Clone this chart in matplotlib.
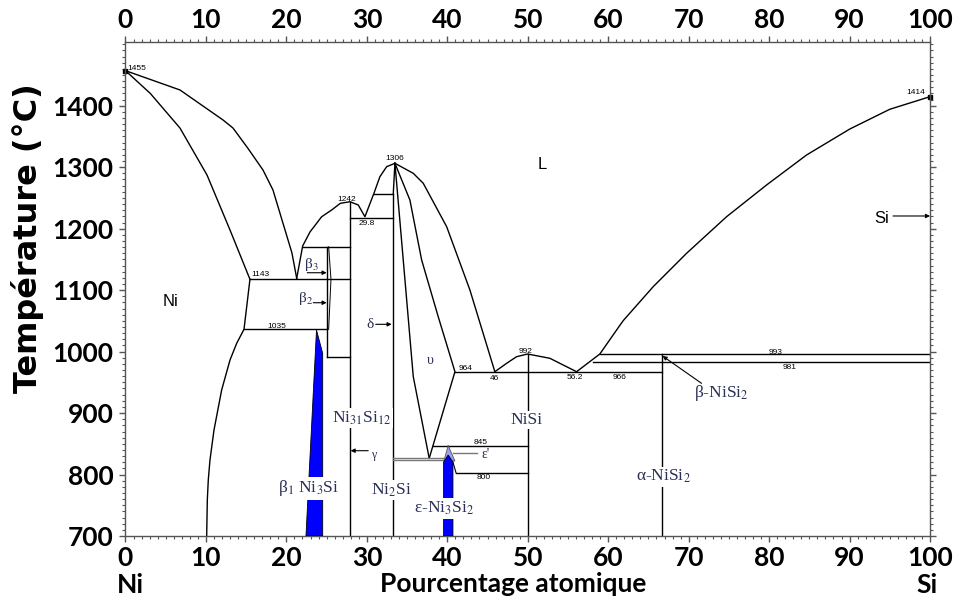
import matplotlib
matplotlib.use('Agg')
import matplotlib.pyplot as plt
from matplotlib.ticker import MultipleLocator, FixedLocator

plt.rcParams['font.family'] = ['Lato', 'DejaVu Sans']
plt.rcParams['mathtext.fontset'] = 'stix'

# ---- phase boundaries (at.% Si, temperature in C) ----
ni_liq_x = [0, 6.77, 12.12, 13.36, 15.2, 17.09, 18.33, 20.69, 21.28]
ni_liq_t = [1457, 1425.6, 1376.8, 1363.7, 1331, 1295.4, 1262.9, 1160.4, 1119.2]

ni_sol_x = [0, 3.08, 6.77, 10.13, 12.99, 15.47]
ni_sol_t = [1457, 1420, 1363.7, 1287.3, 1197.8, 1117.6]

ni_solvus_x = [15.47, 14.73, 13.82, 12.99, 11.95, 11.0, 10.5, 10.29, 10.17, 10.09]
ni_solvus_t = [1117.6, 1036.3, 1013.5, 986.3, 937.5, 872.4, 823.6, 791.1, 758.6, 700]

mid_liq_x = [21.28, 22.02, 22.93, 24.38, 25.62, 26.70, 27.90, 28.93, 29.76, 30.88, 31.62, 32.46, 33.49]
mid_liq_t = [1119.2, 1171.8, 1194.6, 1219.4, 1230.3, 1241.2, 1243.8, 1238.5, 1219.4, 1257.5, 1284.5, 1300.8, 1306.3]

delta_x = [33.49, 35.77, 37.75]
delta_t = [1306.3, 959.2, 826.4]

theta_x = [33.49, 35.35, 36.81, 38.87, 40.95, 37.75]
theta_t = [1306.3, 1246.6, 1149.0, 1056.8, 967.3, 826.4]

liq2_x = [33.49, 35.77, 37.01, 39.92, 42.81, 45.91]
liq2_t = [1306.3, 1290.0, 1273.8, 1203.2, 1100.2, 967.3]

nisi_liq_x = [45.91, 47.37, 48.61, 49.98, 52.75, 54.83, 56.07]
nisi_liq_t = [967.3, 980.9, 991.7, 996.1, 989.1, 975.4, 967.3]

si_liq_x = [56.07, 58.96, 61.04, 61.86, 65.59, 69.74, 74.71, 79.68, 84.65, 90.03, 95.0, 100]
si_liq_t = [967.3, 996.1, 1035.1, 1050.3, 1105.6, 1159.9, 1219.4, 1271.0, 1319.8, 1362.1, 1394.2, 1414.7]

beta_x = [25.25, 25.54, 25.25]
beta_t = [1170.6, 1117.6, 1036.3]

# horizontal invariant lines: start, end, temperature
h_x0 = [15.47, 14.73, 22.02, 25.08, 27.90, 30.88, 40.95, 58.96, 58.13, 38.22, 41.08]
h_x1 = [27.90, 25.08, 27.90, 27.90, 33.28, 33.28, 66.63, 100, 100, 50.0, 50.0]
h_t = [1117.6, 1036.3, 1170.6, 991.2, 1216.8, 1256.4, 967.3, 996.1, 982.6, 846.9, 802.0]

# vertical compound lines: position, bottom, top
v_x = [27.90, 33.28, 25.08, 50.0, 66.63]
v_t0 = [700, 700, 991.2, 700, 700]
v_t1 = [1243.8, 1256.4, 1170.6, 996.1, 996.1]

# filled phases
b1_x = [23.74, 24.51, 24.51, 22.43]
b1_t = [1035.1, 997.2, 700, 700]
eps_x = [39.54, 40.11, 40.70, 40.70, 39.54]
eps_t = [820.4, 831.8, 820.4, 700, 700]
epsp_x = [39.57, 40.11, 40.95]
epsp_t = [822.1, 847.0, 822.1]

# temperature annotations
num_txt = ['1242', '29.8', '1143', '1035', '1306', '964', '46', '992', '56.2', '966', '993', '981', '845', '800']
num_x = [27.49, 29.97, 16.71, 18.86, 33.49, 42.31, 45.91, 49.73, 55.86, 61.45, 80.84, 82.58, 44.18, 44.46]
num_t = [1247.8, 1207.6, 1126.2, 1041.1, 1314.5, 971.7, 956.5, 999.8, 958.2, 958.2, 999.3, 974.9, 852.4, 794.8]

fig = plt.figure(figsize=(9.58, 6.02), dpi=100)
ax = fig.add_axes([0.131, 0.1096, 0.8398, 0.8206])

lw = 1.0
for xs, ts in [(ni_liq_x, ni_liq_t), (ni_sol_x, ni_sol_t), (ni_solvus_x, ni_solvus_t),
               (mid_liq_x, mid_liq_t), (delta_x, delta_t), (theta_x, theta_t),
               (liq2_x, liq2_t), (nisi_liq_x, nisi_liq_t), (si_liq_x, si_liq_t)]:
    ax.plot(xs, ts, color='k', lw=lw)
ax.plot(beta_x, beta_t, color='k', lw=0.7)

for a, b, t in zip(h_x0, h_x1, h_t):
    ax.plot([a, b], [t, t], color='k', lw=lw)
for x, t0, t1 in zip(v_x, v_t0, v_t1):
    ax.plot([x, x], [t0, t1], color='k', lw=lw)
ax.plot([33.49, 33.28], [1306.3, 1256.4], color='k', lw=lw)
ax.plot([40.11, 41.08], [846.4, 803.0], color='k', lw=0.8)
ax.plot([33.28, 39.49], [827.4, 827.4], color='#777777', lw=1.0)
ax.plot([33.28, 39.49], [823.2, 823.2], color='#777777', lw=1.0)
ax.plot([40.66, 43.72], [835.5, 835.5], color='#777777', lw=1.0)

ax.fill(b1_x, b1_t, facecolor='#0000ff', edgecolor='k', lw=0.6, zorder=3)
ax.fill(eps_x, eps_t, facecolor='#0000ff', edgecolor='k', lw=0.6, zorder=3)
ax.fill(epsp_x, epsp_t, facecolor='#a0a0f0', edgecolor='#555555', lw=0.6, zorder=2)

ax.plot([0], [1457], 'ks', ms=2.5, clip_on=False)
ax.plot([100], [1414.7], 'ks', ms=2.5, clip_on=False)

for s, x, t in zip(num_txt, num_x, num_t):
    ax.text(x, t, s, fontsize=6, family='Liberation Sans', ha='center', va='center')
ax.text(0.25, 1461, '1455', fontsize=6, family='Liberation Sans', ha='left', va='center')
ax.text(98.24, 1421.8, '1414', fontsize=6, family='Liberation Sans', ha='center', va='center')

# phase labels
navy = '#2a2f55'
wb = dict(facecolor='white', edgecolor='none', pad=1.0)
serif = dict(family='Liberation Serif', color=navy, ha='center', va='center')
ax.text(29.4, 892, 'Ni$_{31}$Si$_{12}$', fontsize=12.5, bbox=wb, zorder=5, **serif)
ax.text(33.1, 774.8, 'Ni$_2$Si', fontsize=12.5, bbox=wb, zorder=5, **serif)
ax.text(49.9, 888.7, 'NiSi', fontsize=12.5, bbox=wb, zorder=5, **serif)
ax.text(66.83, 796.5, '\u03b1-NiSi$_2$', fontsize=12.5, bbox=wb, zorder=5, **serif)
ax.text(74.09, 932.2, '\u03b2-NiSi$_2$', fontsize=12.5, zorder=5, **serif)
ax.text(22.8, 777.6, '\u03b2$_1$ Ni$_3$Si', fontsize=12.5, bbox=wb, zorder=5, **serif)
ax.text(39.6, 744.7, '\u03b5-Ni$_3$Si$_2$', fontsize=12.5, bbox=wb, zorder=5, **serif)
ax.text(37.85, 985.2, '\u03c5', fontsize=10, **serif)
ax.text(30.4, 1043.3, '\u03b4', fontsize=11, **serif)
ax.text(30.85, 831.8, '\u03b3', fontsize=8.5, **serif)
ax.text(23.14, 1140.9, '\u03b2$_3$', fontsize=11, **serif)
ax.text(22.43, 1086.7, '\u03b2$_2$', fontsize=11, **serif)
ax.text(44.8, 832, "\u03b5'", fontsize=10, **serif)

sans = dict(family='Liberation Sans', ha='center', va='center', color='k')
ax.text(5.6, 1081, 'Ni', fontsize=12, **sans)
ax.text(51.8, 1303.6, 'L', fontsize=12, **sans)
ax.text(94.0, 1216.8, 'Si', fontsize=12, **sans)

arr = dict(arrowstyle='-|>', color='k', lw=0.8, mutation_scale=6, shrinkA=0, shrinkB=0)
for tail, tip in [((95.4, 1220.6), (100, 1220.6)),
                  ((71.6, 948.4), (66.76, 992.8)),
                  ((31.1, 1044.4), (33.08, 1044.4)),
                  ((30.17, 838.8), (27.98, 838.8)),
                  ((22.59, 1128.3), (25.0, 1128.3)),
                  ((23.34, 1079.5), (25.0, 1079.5))]:
    ax.annotate('', xy=tip, xytext=tail, arrowprops=arr)

ax.set_xlim(0, 100)
ax.set_ylim(700, 1503.6)
ax.xaxis.set_major_locator(MultipleLocator(10))
ax.xaxis.set_minor_locator(MultipleLocator(1))
ax.yaxis.set_major_locator(FixedLocator(list(range(700, 1401, 100))))
ax.yaxis.set_minor_locator(MultipleLocator(10))
for sp in ax.spines.values():
    sp.set_color('#555555')
    sp.set_linewidth(1.0)
ax.tick_params(which='both', direction='out', colors='#555555', top=True, right=True,
               labeltop=True, labelright=False)
ax.tick_params(which='major', length=4.5, width=1.0, labelsize=19, labelcolor='k')
ax.tick_params(which='minor', length=2.3, width=0.8)
ax.tick_params(axis='x', which='major', pad=3)
ax.tick_params(axis='y', which='major', pad=4)
for lab in ax.get_xticklabels() + ax.get_yticklabels():
    lab.set_fontweight('bold')
for t in ax.xaxis.get_major_ticks():
    t.label2.set_fontweight('bold')

fig.text(28 / 958, 1 - 238 / 602, 'Température (°C)', fontsize=23, fontweight='bold',
         family='DejaVu Sans', rotation=90, ha='center', va='center')
fig.text(513 / 958, 1 - 584 / 602, 'Pourcentage atomique', fontsize=19, fontweight='bold',
         ha='center', va='center')
fig.text(130 / 958, 1 - 585 / 602, 'Ni', fontsize=19, fontweight='bold', ha='center', va='center')
fig.text(927 / 958, 1 - 585 / 602, 'Si', fontsize=19, fontweight='bold', ha='center', va='center')

fig.savefig('out.png', dpi=100)
